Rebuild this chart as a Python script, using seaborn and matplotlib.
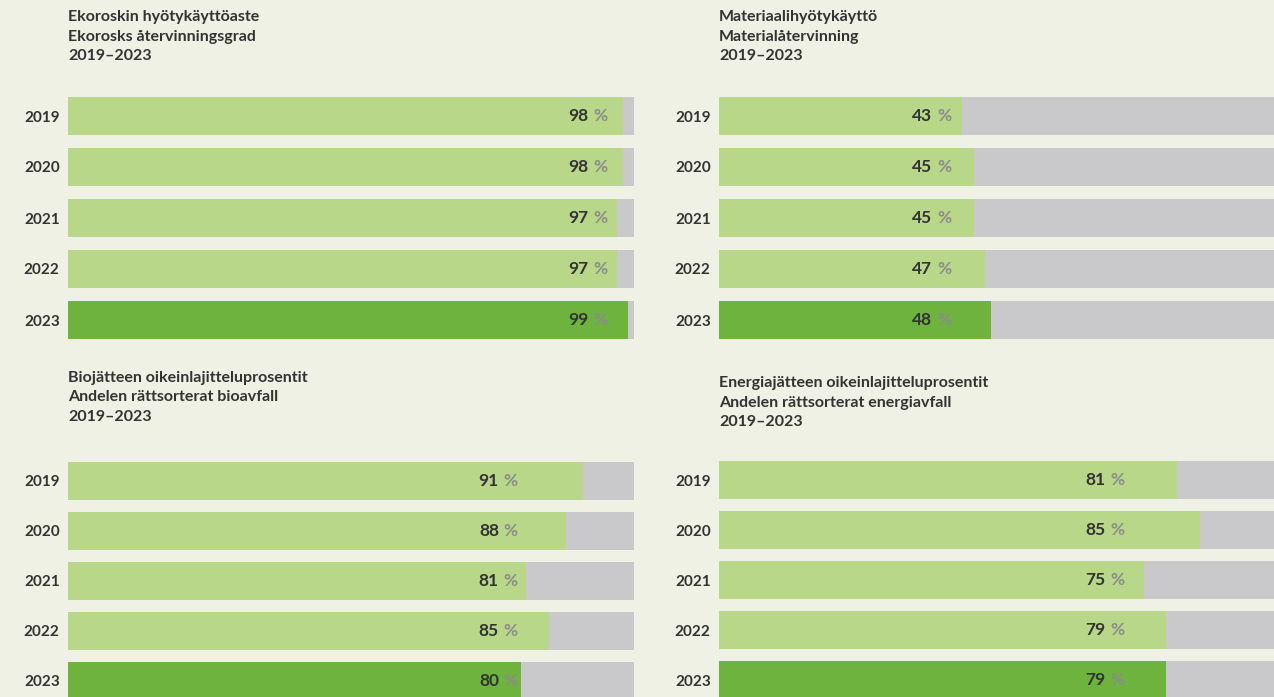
import matplotlib
matplotlib.use("Agg")
import matplotlib.pyplot as plt
import seaborn as sns
import pandas as pd

years = ["2019", "2020", "2021", "2022", "2023"]

eko_values = [98, 98, 97, 97, 99]
material_values = [43, 45, 45, 47, 48]
bio_values = [91, 88, 81, 85, 80]
energy_values = [81, 85, 75, 79, 79]

titles = [
    "Ekoroskin hyötykäyttöaste\nEkorosks återvinningsgrad\n2019–2023",
    "Materiaalihyötykäyttö\nMaterialåtervinning\n2019–2023",
    "Biojätteen oikeinlajitteluprosentit\nAndelen rättsorterat bioavfall\n2019–2023",
    "Energiajätteen oikeinlajitteluprosentit\nAndelen rättsorterat energiavfall\n2019–2023",
]

BG = "#eef1e4"
LIGHT = "#b9d789"
DARK = "#6db33e"
GREY = "#c9c9cc"
TEXT = "#333333"

W, H = 1274, 697

sns.set_theme(style="white")
plt.rcParams["font.family"] = ["Lato", "DejaVu Sans"]

fig = plt.figure(figsize=(W / 100, H / 100), dpi=100)
fig.patch.set_facecolor(BG)

# panel layout in pixels: left, first row centre, row pitch, title y, label x (data units)
panels = [
    (eko_values, titles[0], 68, 116, 51, 10, 95.3),
    (material_values, titles[1], 719, 116, 51, 10, 41.0),
    (bio_values, titles[2], 68, 481, 50, 371, 79.5),
    (energy_values, titles[3], 719, 480, 50, 376, 71.6),
]
width_px = 566

for values, title, left, c0, pitch, ty, label_x in panels:
    top = c0 - pitch / 2
    height = pitch * 5
    ax = fig.add_axes([left / W, 1 - (top + height) / H, width_px / W, height / H])
    ax.set_facecolor("none")
    df = pd.DataFrame({"year": years, "value": values, "total": [100] * 5})

    sns.barplot(data=df, x="total", y="year", color=GREY, width=0.76,
                saturation=1, linewidth=0, ax=ax)
    colors = [LIGHT] * 4 + [DARK]
    sns.barplot(data=df, x="value", y="year", hue="year", palette=colors,
                width=0.76, saturation=1, linewidth=0, legend=False, ax=ax)

    for i, v in enumerate(values):
        ax.text(label_x, i, "%", ha="right", va="center", fontsize=12.5,
                color="#8c8c8c", fontweight="bold")
        ax.annotate(str(v), xy=(label_x, i), xytext=(-19, 0),
                    textcoords="offset pixels", ha="right", va="center",
                    fontsize=12.5, color=TEXT, fontweight="bold")

    ax.set_xlim(0, 100)
    ax.set_ylim(4.5, -0.5)
    ax.set_xlabel("")
    ax.set_ylabel("")
    ax.set_xticks([])
    ax.tick_params(axis="y", length=0, pad=6, labelsize=11, labelcolor=TEXT)
    for lab in ax.get_yticklabels():
        lab.set_fontweight("bold")
    sns.despine(ax=ax, left=True, bottom=True)

    fig.text(left / W, 1 - ty / H, title, ha="left", va="top", fontsize=11.5,
             color=TEXT, linespacing=1.5, fontweight="bold")

fig.savefig("out.png", dpi=100, facecolor=BG)
